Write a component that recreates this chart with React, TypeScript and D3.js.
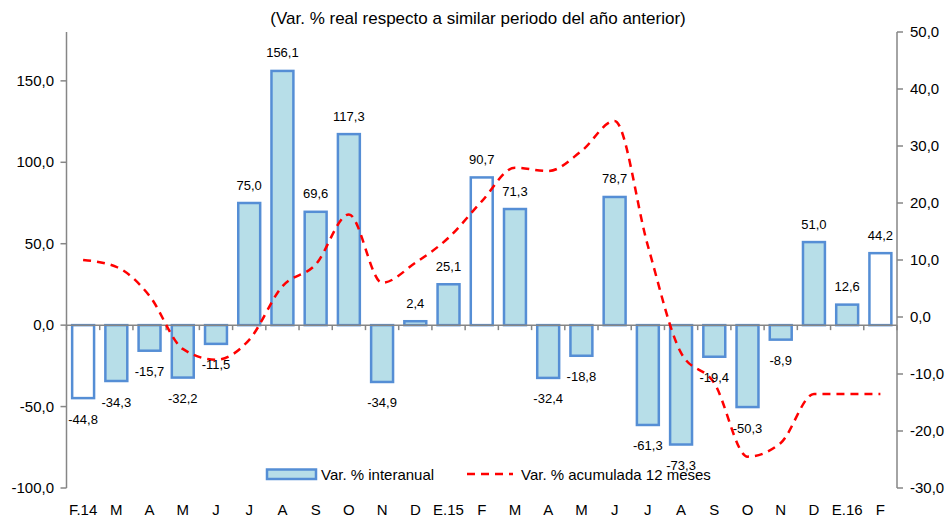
import React from "react";
import * as d3 from "d3";

const categories = ["F.14","M","A","M","J","J","A","S","O","N","D","E.15","F","M","A","M","J","J","A","S","O","N","D","E.16","F"];
const interanual = [-44.8,-34.3,-15.7,-32.2,-11.5,75.0,156.1,69.6,117.3,-34.9,2.4,25.1,90.7,71.3,-32.4,-18.8,78.7,-61.3,-73.3,-19.4,-50.3,-8.9,51.0,12.6,44.2];
const acumulada = [10.0,8.8,3.7,-5.6,-7.5,-4.0,5.4,9.2,18.0,6.0,9.5,13.9,20.3,26.2,25.6,29.1,34.4,12.5,-6.3,-11.6,-24.5,-22.1,-13.5,-13.5,-13.5];
const hollow = [0, 12, 24];
const leftTicks = [-100, -50, 0, 50, 100, 150];
const rightTicks = [-30, -20, -10, 0, 10, 20, 30, 40, 50];
const title = "(Var. % real respecto a similar periodo del año anterior)";
const legendBar = "Var. % interanual";
const legendLine = "Var. % acumulada 12 meses";

const W = 947, H = 518;
const FONT = "'Liberation Sans', Arial, sans-serif";
const fmt = (v: number) => v.toFixed(1).replace(".", ",");

export default function App() {
  const x0 = 66.5, x1 = 897, yTop = 32, yBot = 488;
  const x = d3.scaleBand<number>().domain(d3.range(categories.length)).range([x0, x1]).paddingInner(0.34).paddingOuter(0.17);
  const yL = d3.scaleLinear().domain([-100, 180]).range([yBot, yTop]);
  const yR = d3.scaleLinear().domain([-30, 50]).range([yBot, yTop]);
  const zero = yL(0);
  const step = x.step();
  const bw = x.bandwidth();
  const cx = (i: number) => (x(i) as number) + bw / 2;

  const line = d3.line<number>().x((_, i) => cx(i)).y(d => yR(d)).curve(d3.curveMonotoneX);

  const axisColor = "#868686";
  const barStroke = "#558ED5";
  const barFill = "#B7DEE8";

  return (
    <svg width={W} height={H} style={{ position: "absolute", left: 0, top: 0, background: "#fff" }} fontFamily={FONT}>
      <rect x={0} y={0} width={W} height={H} fill="#fff" />
      <text x={478} y={24} textAnchor="middle" fontSize={17} fill="#000">{title}</text>

      {/* left axis */}
      <line x1={x0} x2={x0} y1={yTop} y2={yBot} stroke={axisColor} strokeWidth={1.5} />
      {leftTicks.map(t => (
        <g key={"l" + t}>
          <line x1={x0 - 6} x2={x0} y1={yL(t)} y2={yL(t)} stroke={axisColor} strokeWidth={1.5} />
          <text x={54} y={yL(t) + 5} textAnchor="end" fontSize={15} fill="#000">{fmt(t)}</text>
        </g>
      ))}

      {/* right axis */}
      <line x1={x1} x2={x1} y1={yTop} y2={yBot} stroke={axisColor} strokeWidth={1.5} />
      {rightTicks.map(t => (
        <g key={"r" + t}>
          <line x1={x1} x2={x1 + 6} y1={yR(t)} y2={yR(t)} stroke={axisColor} strokeWidth={1.5} />
          <text x={910} y={yR(t) + 5} textAnchor="start" fontSize={15} fill="#000">{fmt(t)}</text>
        </g>
      ))}

      {/* bars */}
      {interanual.map((v, i) => {
        const y = v >= 0 ? yL(v) : zero;
        const h = Math.abs(yL(v) - zero);
        return (
          <rect key={"b" + i} x={x(i)} y={y} width={bw} height={h}
            fill={hollow.includes(i) ? "#fff" : barFill} stroke={barStroke} strokeWidth={2.5} />
        );
      })}

      {/* category axis */}
      <line x1={x0} x2={x1} y1={zero} y2={zero} stroke={axisColor} strokeWidth={1.5} />
      {d3.range(categories.length + 1).map(i => (
        <line key={"ct" + i} x1={x0 + i * step} x2={x0 + i * step} y1={zero} y2={zero + 5} stroke={axisColor} strokeWidth={1.5} />
      ))}
      {categories.map((c, i) => (
        <text key={"c" + i} x={cx(i)} y={515} textAnchor="middle" fontSize={15} fill="#000">{c}</text>
      ))}

      {/* line */}
      <path d={line(acumulada) || ""} fill="none" stroke="#FF0000" strokeWidth={2.5} strokeDasharray="8,6" />

      {/* legend */}
      <rect x={267} y={469.5} width={49} height={9.5} fill={barFill} stroke={barStroke} strokeWidth={2.5} />
      <text x={321} y={479.5} fontSize={15} fill="#000">{legendBar}</text>
      <line x1={467} x2={513} y1={474} y2={474} stroke="#FF0000" strokeWidth={2.5} strokeDasharray="8,6" />
      <text x={521} y={479.5} fontSize={15} fill="#000">{legendLine}</text>

      {/* bar labels */}
      {interanual.map((v, i) => (
        <text key={"v" + i} x={cx(i)} y={v >= 0 ? yL(v) - 13.5 : yL(v) + 25.5} textAnchor="middle" fontSize={13} fill="#000">{fmt(v)}</text>
      ))}
    </svg>
  );
}
